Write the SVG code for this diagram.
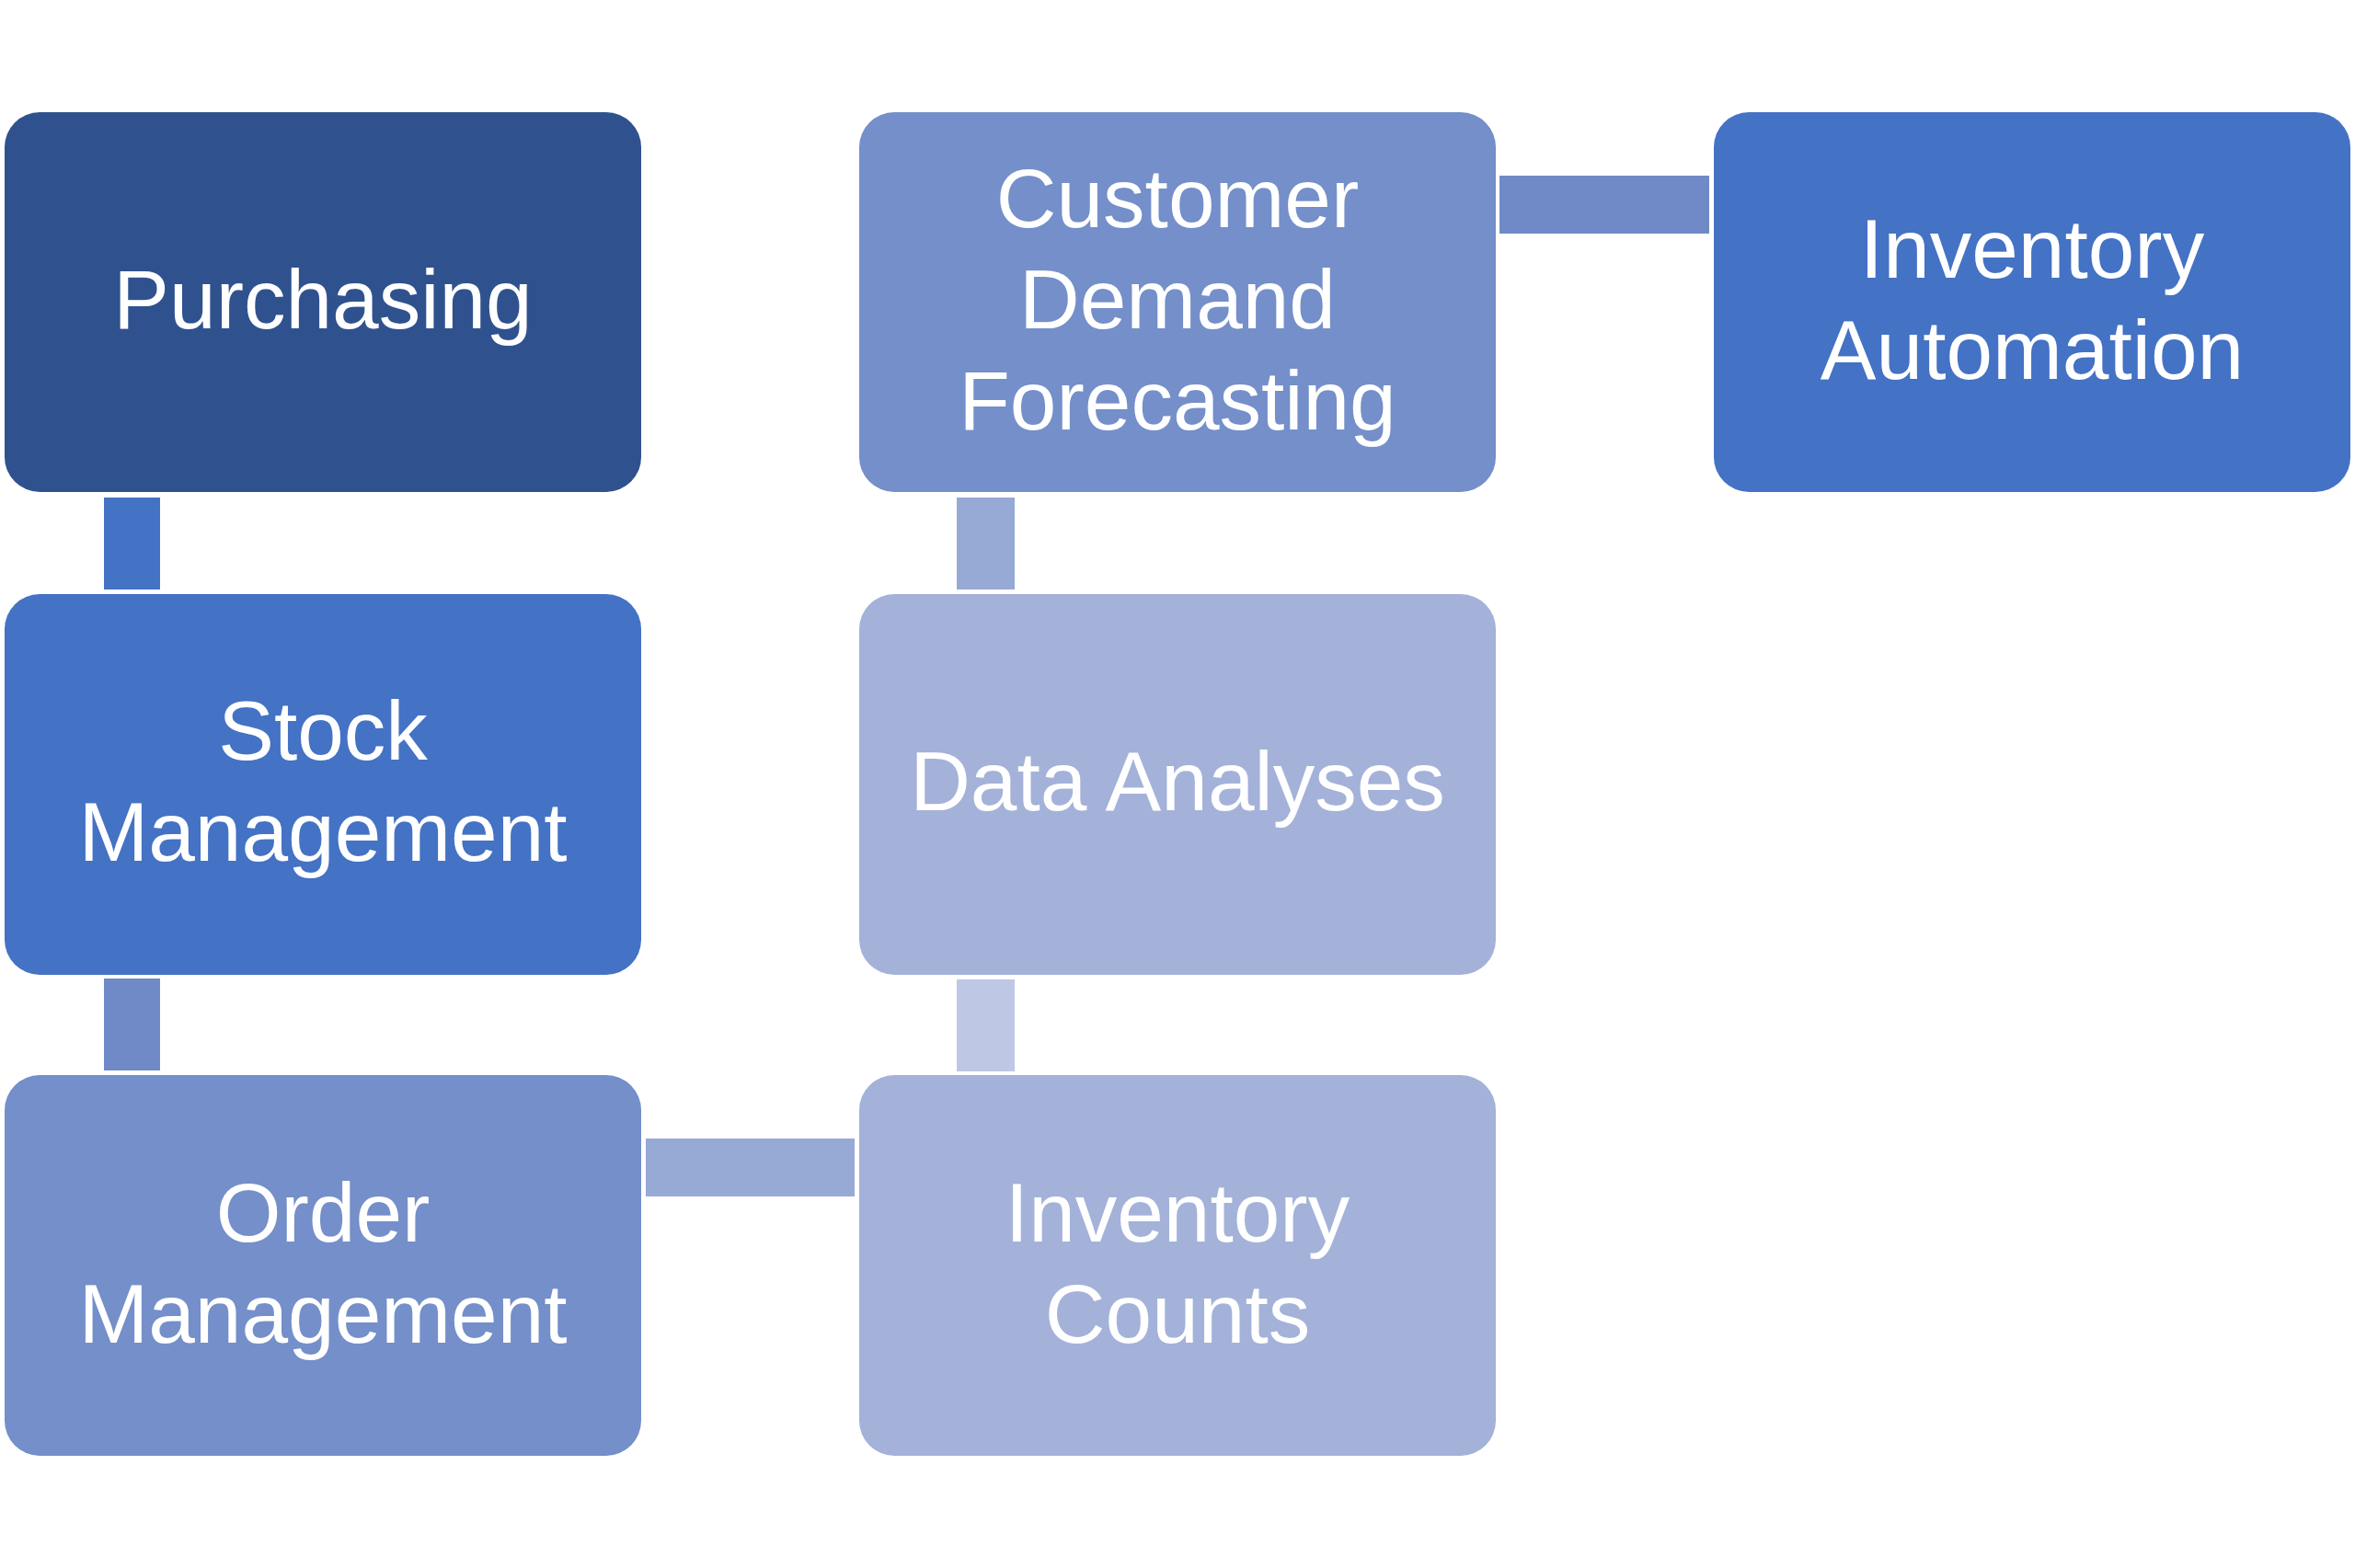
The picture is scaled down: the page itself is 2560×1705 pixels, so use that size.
<svg xmlns="http://www.w3.org/2000/svg" width="2560" height="1705" viewBox="0 0 2560 1705">
<style>
.box{stroke:none}
.lbl{font-family:"Liberation Sans",Arial,sans-serif;font-size:91px;fill:#ffffff;text-anchor:middle}
</style>
<rect width="2560" height="1705" fill="#ffffff"/>
<g id="connectors">
<rect x="113" y="541" width="61" height="100" fill="#4472C4"/>
<rect x="113" y="1064" width="61" height="100" fill="#6F8AC7"/>
<rect x="702" y="1238" width="227" height="63" fill="#97A9D5"/>
<rect x="1040" y="1065" width="63" height="100" fill="#BEC8E4"/>
<rect x="1040" y="541" width="63" height="100" fill="#97A9D5"/>
<rect x="1630" y="191" width="228" height="63" fill="#6F8AC7"/>
</g>
<g id="purchasing">
<rect class="box" x="5" y="122" width="692" height="413" rx="38" fill="#2F528F"/>
<text class="lbl" x="351" y="357">Purchasing</text>
</g>
<g id="stock-management">
<rect class="box" x="5" y="646" width="692" height="414" rx="38" fill="#4472C4"/>
<text class="lbl" x="351" y="826">Stock</text>
<text class="lbl" x="351" y="936">Management</text>
</g>
<g id="order-management">
<rect class="box" x="5" y="1169" width="692" height="414" rx="38" fill="#748FC9"/>
<text class="lbl" x="351" y="1350">Order</text>
<text class="lbl" x="351" y="1460">Management</text>
</g>
<g id="customer-demand-forecasting">
<rect class="box" x="934" y="122" width="692" height="413" rx="38" fill="#748FC9"/>
<text class="lbl" x="1280" y="247">Customer</text>
<text class="lbl" x="1280" y="357">Demand</text>
<text class="lbl" x="1280" y="467">Forecasting</text>
</g>
<g id="data-analyses">
<rect class="box" x="934" y="646" width="692" height="414" rx="38" fill="#A4B2D9"/>
<text class="lbl" x="1280" y="881">Data Analyses</text>
</g>
<g id="inventory-counts">
<rect class="box" x="934" y="1169" width="692" height="414" rx="38" fill="#A4B2D9"/>
<text class="lbl" x="1280" y="1350">Inventory</text>
<text class="lbl" x="1280" y="1460">Counts</text>
</g>
<g id="inventory-automation">
<rect class="box" x="1863" y="122" width="692" height="413" rx="38" fill="#4472C4"/>
<text class="lbl" x="2209" y="302">Inventory</text>
<text class="lbl" x="2209" y="412">Automation</text>
</g>
</svg>
